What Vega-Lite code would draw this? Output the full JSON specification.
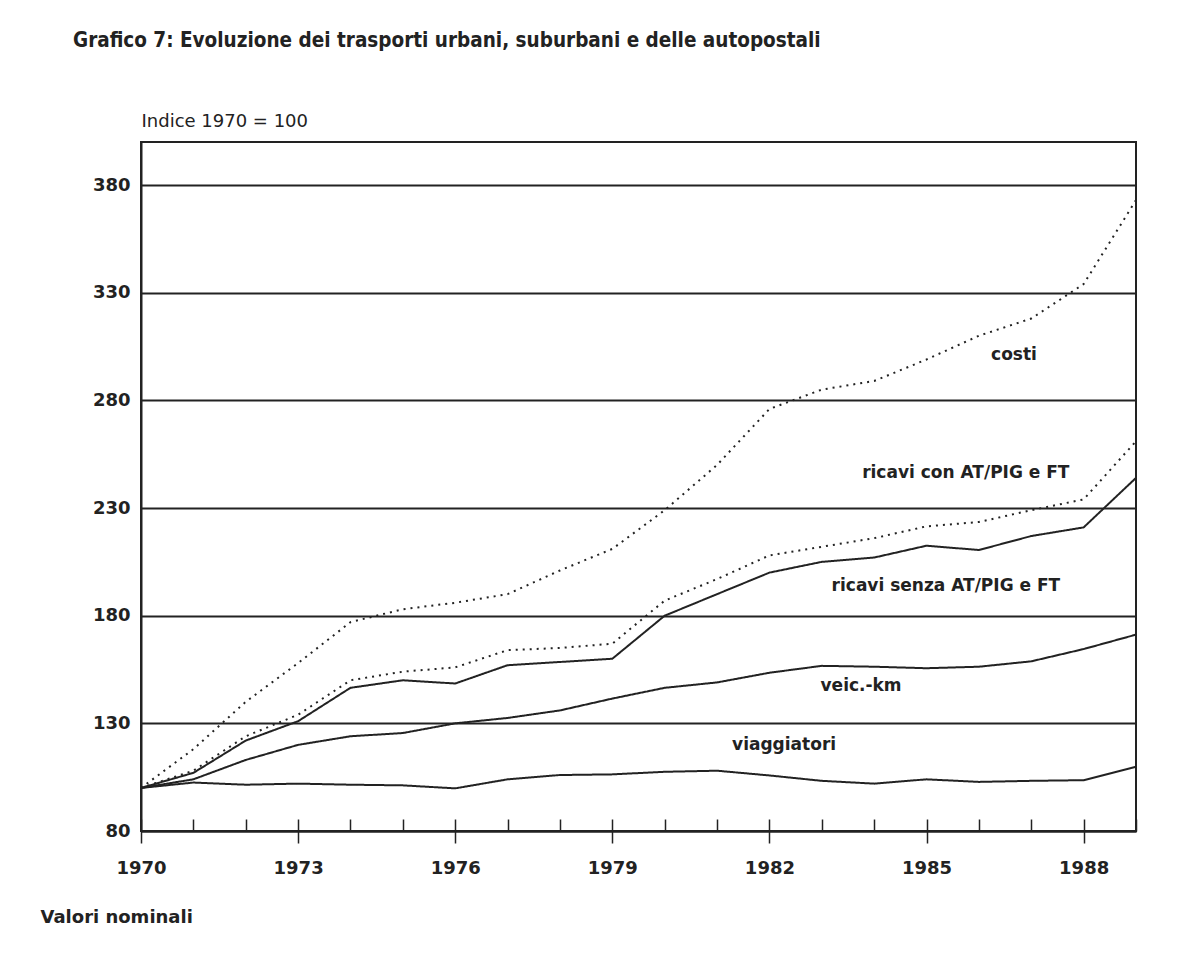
{
  "$schema": "https://vega.github.io/schema/vega-lite/v6.json",
  "autosize": {"type": "none"},
  "padding": {"left": 141, "top": 142, "right": 61, "bottom": 129},
  "width": 995,
  "height": 689,
  "background": "white",
  "title": {
    "text": "Grafico 7: Evoluzione dei trasporti urbani, suburbani e delle autopostali",
    "anchor": "start",
    "frame": "group",
    "dx": -68,
    "dy": 17,
    "offset": 62,
    "baseline": "alphabetic",
    "font": "Liberation Sans Narrow, 'Arial Narrow', 'Noto Sans Condensed', 'DejaVu Sans Condensed', sans-serif",
    "fontSize": 20.5,
    "fontWeight": "bold",
    "color": "#222222"
  },
  "datasets": {
    "series": [
      {"year": 1970, "serie": "costi", "value": 100},
      {"year": 1971, "serie": "costi", "value": 118},
      {"year": 1972, "serie": "costi", "value": 140},
      {"year": 1973, "serie": "costi", "value": 158},
      {"year": 1974, "serie": "costi", "value": 177},
      {"year": 1975, "serie": "costi", "value": 183},
      {"year": 1976, "serie": "costi", "value": 186},
      {"year": 1977, "serie": "costi", "value": 190},
      {"year": 1978, "serie": "costi", "value": 201},
      {"year": 1979, "serie": "costi", "value": 211},
      {"year": 1980, "serie": "costi", "value": 229},
      {"year": 1981, "serie": "costi", "value": 250},
      {"year": 1982, "serie": "costi", "value": 276},
      {"year": 1983, "serie": "costi", "value": 285},
      {"year": 1984, "serie": "costi", "value": 289},
      {"year": 1985, "serie": "costi", "value": 299},
      {"year": 1986, "serie": "costi", "value": 310},
      {"year": 1987, "serie": "costi", "value": 318},
      {"year": 1988, "serie": "costi", "value": 334},
      {"year": 1989, "serie": "costi", "value": 373},
      {"year": 1970, "serie": "ricavi con AT/PIG e FT", "value": 100},
      {"year": 1971, "serie": "ricavi con AT/PIG e FT", "value": 108},
      {"year": 1972, "serie": "ricavi con AT/PIG e FT", "value": 124},
      {"year": 1973, "serie": "ricavi con AT/PIG e FT", "value": 134},
      {"year": 1974, "serie": "ricavi con AT/PIG e FT", "value": 150},
      {"year": 1975, "serie": "ricavi con AT/PIG e FT", "value": 154},
      {"year": 1976, "serie": "ricavi con AT/PIG e FT", "value": 156},
      {"year": 1977, "serie": "ricavi con AT/PIG e FT", "value": 164},
      {"year": 1978, "serie": "ricavi con AT/PIG e FT", "value": 165},
      {"year": 1979, "serie": "ricavi con AT/PIG e FT", "value": 167},
      {"year": 1980, "serie": "ricavi con AT/PIG e FT", "value": 187},
      {"year": 1981, "serie": "ricavi con AT/PIG e FT", "value": 197},
      {"year": 1982, "serie": "ricavi con AT/PIG e FT", "value": 208},
      {"year": 1983, "serie": "ricavi con AT/PIG e FT", "value": 212},
      {"year": 1984, "serie": "ricavi con AT/PIG e FT", "value": 216},
      {"year": 1985, "serie": "ricavi con AT/PIG e FT", "value": 221.5},
      {"year": 1986, "serie": "ricavi con AT/PIG e FT", "value": 223.5},
      {"year": 1987, "serie": "ricavi con AT/PIG e FT", "value": 229},
      {"year": 1988, "serie": "ricavi con AT/PIG e FT", "value": 234},
      {"year": 1989, "serie": "ricavi con AT/PIG e FT", "value": 261},
      {"year": 1970, "serie": "ricavi senza AT/PIG e FT", "value": 100},
      {"year": 1971, "serie": "ricavi senza AT/PIG e FT", "value": 107},
      {"year": 1972, "serie": "ricavi senza AT/PIG e FT", "value": 122},
      {"year": 1973, "serie": "ricavi senza AT/PIG e FT", "value": 131},
      {"year": 1974, "serie": "ricavi senza AT/PIG e FT", "value": 146.5},
      {"year": 1975, "serie": "ricavi senza AT/PIG e FT", "value": 150},
      {"year": 1976, "serie": "ricavi senza AT/PIG e FT", "value": 148.5},
      {"year": 1977, "serie": "ricavi senza AT/PIG e FT", "value": 157},
      {"year": 1978, "serie": "ricavi senza AT/PIG e FT", "value": 158.5},
      {"year": 1979, "serie": "ricavi senza AT/PIG e FT", "value": 160},
      {"year": 1980, "serie": "ricavi senza AT/PIG e FT", "value": 180},
      {"year": 1981, "serie": "ricavi senza AT/PIG e FT", "value": 190},
      {"year": 1982, "serie": "ricavi senza AT/PIG e FT", "value": 200},
      {"year": 1983, "serie": "ricavi senza AT/PIG e FT", "value": 205},
      {"year": 1984, "serie": "ricavi senza AT/PIG e FT", "value": 207},
      {"year": 1985, "serie": "ricavi senza AT/PIG e FT", "value": 212.5},
      {"year": 1986, "serie": "ricavi senza AT/PIG e FT", "value": 210.5},
      {"year": 1987, "serie": "ricavi senza AT/PIG e FT", "value": 217},
      {"year": 1988, "serie": "ricavi senza AT/PIG e FT", "value": 221},
      {"year": 1989, "serie": "ricavi senza AT/PIG e FT", "value": 244},
      {"year": 1970, "serie": "veic.-km", "value": 100},
      {"year": 1971, "serie": "veic.-km", "value": 104},
      {"year": 1972, "serie": "veic.-km", "value": 113},
      {"year": 1973, "serie": "veic.-km", "value": 120},
      {"year": 1974, "serie": "veic.-km", "value": 124},
      {"year": 1975, "serie": "veic.-km", "value": 125.5},
      {"year": 1976, "serie": "veic.-km", "value": 130},
      {"year": 1977, "serie": "veic.-km", "value": 132.5},
      {"year": 1978, "serie": "veic.-km", "value": 136},
      {"year": 1979, "serie": "veic.-km", "value": 141.5},
      {"year": 1980, "serie": "veic.-km", "value": 146.5},
      {"year": 1981, "serie": "veic.-km", "value": 149},
      {"year": 1982, "serie": "veic.-km", "value": 153.5},
      {"year": 1983, "serie": "veic.-km", "value": 156.7},
      {"year": 1984, "serie": "veic.-km", "value": 156.3},
      {"year": 1985, "serie": "veic.-km", "value": 155.6},
      {"year": 1986, "serie": "veic.-km", "value": 156.3},
      {"year": 1987, "serie": "veic.-km", "value": 158.8},
      {"year": 1988, "serie": "veic.-km", "value": 164.5},
      {"year": 1989, "serie": "veic.-km", "value": 171.2},
      {"year": 1970, "serie": "viaggiatori", "value": 100},
      {"year": 1971, "serie": "viaggiatori", "value": 102.5},
      {"year": 1972, "serie": "viaggiatori", "value": 101.5},
      {"year": 1973, "serie": "viaggiatori", "value": 102},
      {"year": 1974, "serie": "viaggiatori", "value": 101.5},
      {"year": 1975, "serie": "viaggiatori", "value": 101.2},
      {"year": 1976, "serie": "viaggiatori", "value": 99.8},
      {"year": 1977, "serie": "viaggiatori", "value": 104},
      {"year": 1978, "serie": "viaggiatori", "value": 106},
      {"year": 1979, "serie": "viaggiatori", "value": 106.3},
      {"year": 1980, "serie": "viaggiatori", "value": 107.5},
      {"year": 1981, "serie": "viaggiatori", "value": 108},
      {"year": 1982, "serie": "viaggiatori", "value": 105.8},
      {"year": 1983, "serie": "viaggiatori", "value": 103.3},
      {"year": 1984, "serie": "viaggiatori", "value": 102},
      {"year": 1985, "serie": "viaggiatori", "value": 104},
      {"year": 1986, "serie": "viaggiatori", "value": 102.8},
      {"year": 1987, "serie": "viaggiatori", "value": 103.3},
      {"year": 1988, "serie": "viaggiatori", "value": 103.6},
      {"year": 1989, "serie": "viaggiatori", "value": 109.8}
    ],
    "labels": [
      {"label": "costi", "x": 1986.67, "value": 301},
      {"label": "ricavi con AT/PIG e FT", "x": 1985.75, "value": 246.3},
      {"label": "ricavi senza AT/PIG e FT", "x": 1985.37, "value": 193.8},
      {"label": "veic.-km", "x": 1983.75, "value": 147.3},
      {"label": "viaggiatori", "x": 1982.28, "value": 119.9}
    ]
  },
  "encoding": {
    "y": {
      "field": "value",
      "type": "quantitative",
      "scale": {"domain": [80, 400], "nice": false, "zero": false},
      "axis": {
        "values": [80, 130, 180, 230, 280, 330, 380],
        "grid": true,
        "gridColor": "#222222",
        "gridWidth": 1.8,
        "ticks": false,
        "domain": true,
        "domainColor": "#222222",
        "domainWidth": 2,
        "labelPadding": 11,
        "labelFont": "DejaVu Sans",
        "labelFontWeight": "bold",
        "labelFontSize": 18,
        "labelColor": "#222222",
        "labelBaseline": "middle",
        "title": "Indice 1970 = 100",
        "titleAngle": 0,
        "titleX": 0,
        "titleY": -16,
        "titleAlign": "left",
        "titleBaseline": "alphabetic",
        "titleFont": "DejaVu Sans",
        "titleFontSize": 18,
        "titleFontWeight": "normal",
        "titleColor": "#222222"
      }
    }
  },
  "layer": [
    {
      "data": {"name": "series"},
      "mark": {"type": "line", "strokeWidth": 2, "color": "#222222", "clip": true},
      "encoding": {
        "x": {
          "field": "year",
          "type": "quantitative",
          "scale": {"domain": [1970, 1989], "nice": false, "zero": false},
          "axis": {
            "orient": "bottom",
            "values": [1970, 1971, 1972, 1973, 1974, 1975, 1976, 1977, 1978, 1979, 1980, 1981, 1982, 1983, 1984, 1985, 1986, 1987, 1988, 1989],
            "tickSize": -12,
            "tickColor": "#222222",
            "tickWidth": 1.5,
            "labels": false,
            "grid": false,
            "domain": true,
            "domainColor": "#222222",
            "domainWidth": 2,
            "title": null
          }
        },
        "detail": {"field": "serie"},
        "strokeDash": {
          "field": "serie",
          "type": "nominal",
          "scale": {
            "domain": ["costi", "ricavi con AT/PIG e FT", "ricavi senza AT/PIG e FT", "veic.-km", "viaggiatori"],
            "range": [[2, 5], [2, 5], [1, 0], [1, 0], [1, 0]]
          },
          "legend": null
        }
      }
    },
    {
      "data": {"name": "labels"},
      "mark": {"type": "text", "font": "DejaVu Sans", "fontWeight": "bold", "fontSize": 17, "color": "#222222", "align": "center", "baseline": "middle"},
      "encoding": {
        "x": {
          "field": "x",
          "type": "quantitative",
          "axis": {
            "orient": "bottom",
            "values": [1970, 1973, 1976, 1979, 1982, 1985, 1988],
            "format": "d",
            "tickSize": 12,
            "tickColor": "#222222",
            "tickWidth": 1.5,
            "domain": false,
            "grid": false,
            "labelPadding": 30,
            "labelBaseline": "alphabetic",
            "labelFont": "DejaVu Sans",
            "labelFontWeight": "bold",
            "labelFontSize": 18,
            "labelColor": "#222222",
            "labelFlush": false,
            "labelOverlap": false,
            "title": "Valori nominali",
            "titleX": -101,
            "titleY": 91,
            "titleAlign": "left",
            "titleBaseline": "alphabetic",
            "titleFont": "DejaVu Sans",
            "titleFontSize": 18,
            "titleFontWeight": "bold",
            "titleColor": "#222222"
          }
        },
        "text": {"field": "label"}
      }
    }
  ],
  "resolve": {"axis": {"x": "independent"}},
  "config": {
    "view": {"stroke": "#222222", "strokeWidth": 2}
  }
}
